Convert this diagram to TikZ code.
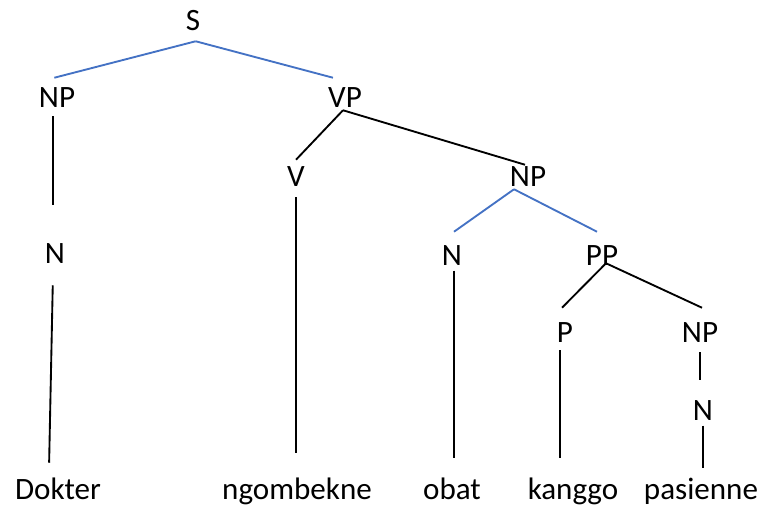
\documentclass[tikz,border=0pt]{standalone}
\usepackage{fontspec}
\setmainfont{Carlito}
\begin{document}
\begin{tikzpicture}[x=0.75pt,y=-0.75pt]
    \tikzset{cat/.style = {font=\fontsize{23.3}{28}\selectfont, text height=15pt, text depth=0pt, inner xsep=1pt, inner ysep=7.5pt}}
    \tikzset{edge/.style = {line width=1.4pt, black}}
    \tikzset{blueedge/.style = {line width=1.4pt, color={rgb,255:red,68;green,114;blue,196}}}
    \useasboundingbox (0,0) rectangle (778,506);
    % categories
    \node[cat] (S) at (193,21) {S};
    \node[cat] (NPs) at (57,98) {NP};
    \node[cat] (VP) at (345,98) {VP};
    \node[cat] (N1) at (55,253) {N};
    \node[cat] (V) at (296,177) {V};
    \node[cat] (NPo) at (528,177) {NP};
    \node[cat] (N2) at (452,255) {N};
    \node[cat] (PP) at (602,255) {PP};
    \node[cat] (P) at (565,332) {P};
    \node[cat] (NPp) at (700,332) {NP};
    \node[cat] (N3) at (703,410) {N};
    % words
    \node[cat] (w1) at (58,489) {Dokter};
    \node[cat] (w2) at (297,489) {ngombekne};
    \node[cat] (w3) at (452,489) {obat};
    \node[cat] (w4) at (573,489) {kanggo};
    \node[cat] (w5) at (701,489) {pasienne};
    % branches
    \draw[blueedge] ([xshift=2pt]S.south) to ([xshift=-2pt]NPs.north);
    \draw[blueedge] ([xshift=2pt]S.south) to ([xshift=-9pt]VP.north);
    \draw[edge, shorten <=-1.5pt, shorten >=21pt] ([xshift=-3pt]NPs.south) to ([xshift=-1.5pt]N1.north);
    \draw[edge, shorten <=9pt, shorten >=4.5pt] ([xshift=-1.5pt]N1.south) to ([xshift=-6.75pt]w1.north);
    \draw[edge] ([xshift=-1.5pt,yshift=6pt]VP.south) to ([yshift=-2.25pt]V.north);
    \draw[edge] ([xshift=-1.5pt,yshift=6pt]VP.south) to ([xshift=-2.25pt,yshift=-6pt]NPo.north);
    \draw[edge, shorten >=12pt] (V.south) to ([xshift=-0.75pt]w2.north);
    \draw[blueedge] ([xshift=-10.5pt,yshift=6pt]NPo.south) to ([xshift=1.5pt,yshift=2.25pt]N2.north);
    \draw[blueedge] ([xshift=-10.5pt,yshift=6pt]NPo.south) to ([xshift=-3.75pt,yshift=2.25pt]PP.north);
    \draw[edge, shorten <=-3.5pt, shorten >=8pt] ([xshift=1.5pt]N2.south) to ([xshift=1.5pt]w3.north);
    \draw[edge] ([xshift=3pt,yshift=9pt]PP.south) to ([xshift=-2.25pt,yshift=3pt]P.north);
    \draw[edge] ([xshift=3pt,yshift=9pt]PP.south) to ([xshift=1.5pt,yshift=3pt]NPp.north);
    \draw[edge, shorten <=-1.5pt, shorten >=8pt] ([xshift=-3.5pt]P.south) to ([xshift=-9.5pt]w4.north);
    \draw[edge, shorten >=7.5pt] (NPp.south) to ([xshift=-2.25pt]N3.north);
    \draw[edge, shorten <=-3.5pt, shorten >=0.75pt] (N3.south) to ([xshift=1.5pt]w5.north);
\end{tikzpicture}
\end{document}
